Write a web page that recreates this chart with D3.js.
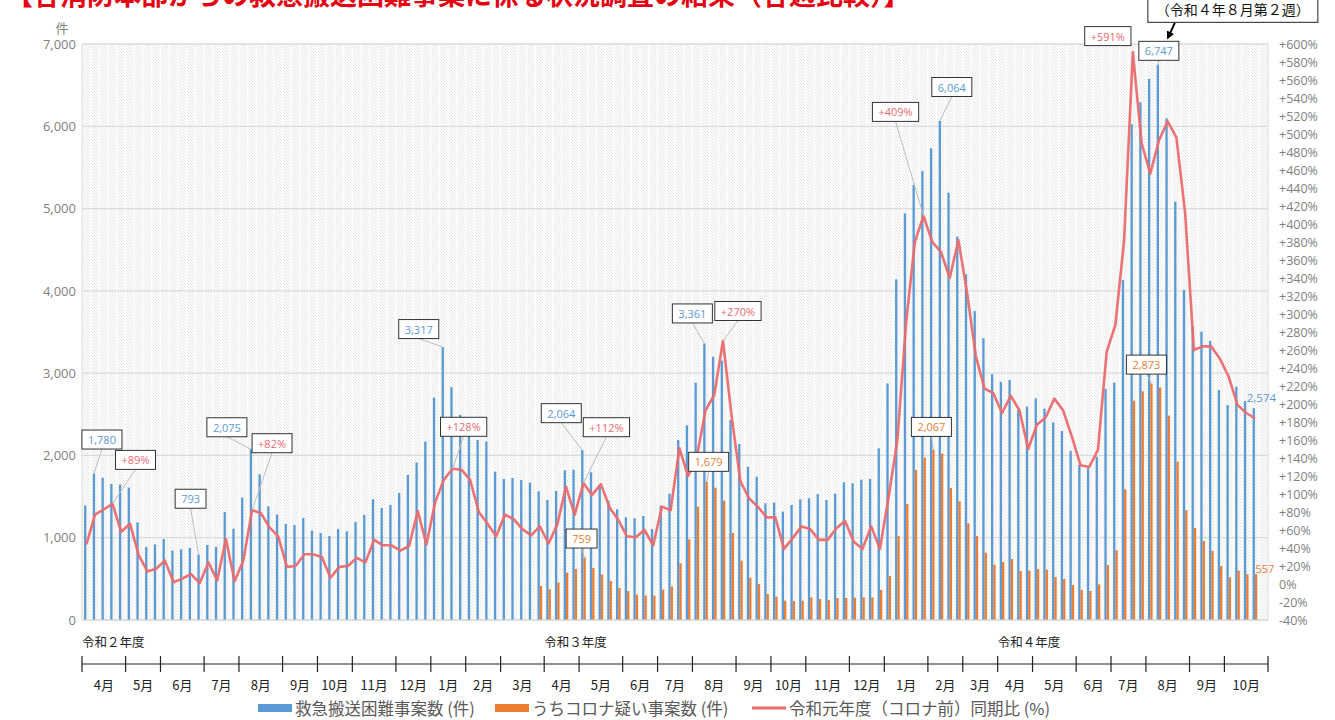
<!DOCTYPE html>
<html><head><meta charset="utf-8">
<script src="https://cdn.jsdelivr.net/npm/d3@7"></script>
<style>
body{margin:0;background:#fff;}
svg{display:block;font-family:"Noto Sans CJK JP","Noto Sans",sans-serif;}
.num{font-family:"Open Sans","Noto Sans CJK JP",sans-serif;}
</style></head><body>
<svg id="chart" width="1335" height="720"></svg>
<script>
// ---------------- DATA ----------------
const titleText = "【各消防本部からの救急搬送困難事案に係る状況調査の結果（各週比較）】";
const seriesNames = ["救急搬送困難事案数 (件)", "うちコロナ疑い事案数 (件)", "令和元年度（コロナ前）同期比 (%)"];

// weekly counts, week 1 = first week of 令和2年度
const blueValues = [1390,1780,1730,1654,1645,1609,1187,888,920,985,
843,859,875,793,912,888,1313,1110,1487,2075,
1771,1382,1281,1167,1155,1240,1086,1058,1021,1106,
1078,1192,1277,1467,1362,1398,1544,1763,1913,2168,
2703,3317,2829,2493,2270,2188,2168,1803,1714,1726,
1701,1669,1564,1458,1568,1819,1827,2064,1795,1620,
1450,1345,1248,1236,1264,1106,1389,1535,2188,2366,
2884,3361,3200,3152,2431,2139,1863,1742,1418,1426,
1317,1398,1466,1479,1531,1458,1535,1673,1661,1705,
1714,2086,2876,4140,4942,5287,5457,5732,6064,5193,
4659,4201,3755,3423,2986,2896,2917,2552,2593,2694,
2568,2402,2297,2054,1884,1843,1985,2807,2884,4132,
6024,6291,6575,6747,6097,5084,4011,3565,3504,3391,
2795,2613,2836,2662,2574];

const orangeValues = [
null,null,null,null,null,null,null,null,null,null,
null,null,null,null,null,null,null,null,null,null,
null,null,null,null,null,null,null,null,null,null,
null,null,null,null,null,null,null,null,null,null,
null,null,null,null,null,null,null,null,null,null,
null,null,
413,373,454,575,620,759,632,551,474,389,
352,308,296,296,369,409,689,980,1377,1679,
1608,1450,1057,721,514,437,316,284,235,231,
235,275,255,243,267,267,271,275,275,365,
535,1021,1410,1823,1973,2067,2021,1604,1442,1175,
1021,818,672,705,741,595,600,620,612,523,
498,425,365,352,433,668,847,1588,2666,2779,
2873,2824,2483,1924,1333,1118,960,839,656,518,
600,555,557];

const ratioValues = [44,77,83,89,58,67,32,14,17,26,
2,6,11,1,24,4,50,3,26,82,
79,63,53,19,20,33,33,30,7,19,
20,29,24,49,43,43,37,42,81,44,
91,116,128,127,116,80,67,53,77,72,
61,54,64,45,66,108,77,112,99,111,
85,71,53,52,60,43,86,82,151,120,
141,193,210,270,186,114,95,86,74,74,
39,51,64,61,49,49,62,70,47,39,
64,39,97,160,290,380,409,380,369,340,
382,323,253,217,212,190,209,193,150,177,
185,206,193,164,132,130,149,258,288,382,
591,490,456,493,514,496,412,260,264,264,
250,230,199,190,184];

const monthLabels = ["4月","5月","6月","7月","8月","9月","10月","11月","12月","1月","2月","3月",
                     "4月","5月","6月","7月","8月","9月","10月","11月","12月","1月","2月","3月",
                     "4月","5月","6月","7月","8月","9月","10月"];
const monthWeeks  = [5,4,5,4,5,4,4,5,4,4,4,5,
                     4,5,4,4,5,4,4,5,4,5,4,4,
                     4,5,4,4,5,4,5];
const fiscalYearLabels = ["令和２年度","令和３年度","令和４年度"];
const fiscalYearStartMonth = [0,12,24];

const leftTickValues = [0,1000,2000,3000,4000,5000,6000,7000];
const rightTickValues = d3.range(-40, 601, 20);

// labelled points (week index)
const blueLabelIdx = [1,13,19,41,57,71,98,123];
const orangeLabelIdx = [57,71,97,122];
const ratioLabelIdx = [3,19,42,57,73,96,120];
const peakNote = "（令和４年８月第２週）";

// ---------------- LAYOUT ----------------
const svg = d3.select("#chart");
const plot = {left:82, right:1268, top:44, bottom:620};
const nSlots = d3.sum(monthWeeks);
const x = d3.scaleBand().domain(d3.range(nSlots)).range([plot.left, plot.right]);
const bw = x.bandwidth();
const cx = i => x(i) + bw/2;
const y = d3.scaleLinear().domain([0,7000]).range([plot.bottom, plot.top]);
const y2 = d3.scaleLinear().domain([-40,600]).range([plot.bottom, plot.top]);
const barW = 2.3;
const BLUE="#5B9BD5", ORANGE="#ED7D31", RED="#EC6A6C", GRAY="#7f7f7f";

const defs = svg.append("defs");
const pat = defs.append("pattern").attr("id","hatch").attr("patternUnits","userSpaceOnUse")
  .attr("width",3).attr("height",3);
pat.append("rect").attr("width",3).attr("height",3).attr("fill","#fcfcfc");
pat.append("path").attr("d","M0,0L3,3M-1,2L1,4M2,-1L4,1").attr("stroke","#dedede").attr("stroke-width",0.7);
const mk = defs.append("marker").attr("id","arrow").attr("viewBox","0 0 10 10").attr("refX",5).attr("refY",5)
  .attr("markerWidth",4).attr("markerHeight",4).attr("orient","auto-start-reverse");
mk.append("path").attr("d","M0,0L10,5L0,10z").attr("fill","#000");

// title (partially cut at top, as in the source image)
svg.append("text").attr("x",6).attr("y",5).attr("fill","#E60012")
  .style("font-size","27px").style("font-weight","bold").text(titleText);

// background columns
svg.append("g").selectAll("rect").data(d3.range(nSlots)).join("rect")
  .attr("x", i => x(i)+0.5).attr("width", bw-1.3)
  .attr("y", y(7000)).attr("height", y(0)-y(7000)).attr("fill","url(#hatch)");

// gridlines
svg.append("g").selectAll("line").data(leftTickValues).join("line")
  .attr("x1",plot.left).attr("x2",plot.right).attr("y1",d=>y(d)).attr("y2",d=>y(d))
  .attr("stroke","#dcdcdc").attr("stroke-width",1.2);
svg.append("rect").attr("x",plot.left).attr("y",plot.top).attr("width",plot.right-plot.left)
  .attr("height",plot.bottom-plot.top).attr("fill","none").attr("stroke","#dcdcdc");

// axes
const axL = svg.append("g").attr("transform",`translate(${plot.left},0)`)
  .call(d3.axisLeft(y).tickValues(leftTickValues).tickFormat(d3.format(",")).tickSize(0).tickPadding(6));
const axR = svg.append("g").attr("transform",`translate(${plot.right},0)`)
  .call(d3.axisRight(y2).tickValues(rightTickValues).tickFormat(d => (d>0?"+":"")+d+"%").tickSize(0).tickPadding(11));
[axL,axR].forEach(a=>{a.select(".domain").remove(); a.selectAll("text").attr("fill",GRAY).attr("class","num");});
axL.selectAll("text").style("font-size","13px");
axR.selectAll("text").style("font-size","12.5px");
svg.append("text").attr("x",62).attr("y",27).attr("text-anchor","middle").attr("dominant-baseline","central")
  .attr("fill",GRAY).style("font-size","13px").text("件");

// bars
svg.append("g").selectAll("rect").data(blueValues).join("rect")
  .attr("x",(d,i)=>cx(i)-barW).attr("width",barW).attr("y",d=>y(d)).attr("height",d=>y(0)-y(d)).attr("fill",BLUE);
svg.append("g").selectAll("rect").data(orangeValues.map((v,i)=>({v,i})).filter(d=>d.v!=null)).join("rect")
  .attr("x",d=>cx(d.i)).attr("width",barW).attr("y",d=>y(d.v)).attr("height",d=>y(0)-y(d.v)).attr("fill",ORANGE);
svg.append("line").attr("x1",plot.left).attr("x2",plot.right).attr("y1",y(0)).attr("y2",y(0)).attr("stroke","#d9d9d9");

// line
svg.append("path").datum(ratioValues).attr("fill","none").attr("stroke",RED).attr("stroke-width",2.6)
  .attr("stroke-linejoin","round").attr("opacity",0.95)
  .attr("d", d3.line().x((d,i)=>cx(i)).y(d=>y2(d)));

// ---------------- DATA LABELS ----------------
const fmt = d3.format(",");
const pct = d => (d>0?"+":"")+d+"%";
const blueOff = {1:[8,-34],13:[-8,-56],19:[-24,-22],41:[-24,-18],57:[-21,-37],71:[-12,-30],98:[12,-34],123:[1,-14]};
const orangeOff = {57:[-3,-19],71:[2,-20],97:[-2,-23],122:[-5,-19]};
const ratioOff = {3:[23,-44],19:[20,-67],42:[11,-42],57:[23,-56],73:[15,-30],96:[-28,-104],120:[-25,-16]};
const labels = [];
blueLabelIdx.forEach(i=>labels.push({ax:cx(i)-barW/2, ay:y(blueValues[i]), off:blueOff[i], text:fmt(blueValues[i]), color:BLUE}));
orangeLabelIdx.forEach(i=>labels.push({ax:cx(i)+barW/2, ay:y(orangeValues[i]), off:orangeOff[i], text:fmt(orangeValues[i]), color:ORANGE}));
ratioLabelIdx.forEach(i=>labels.push({ax:cx(i), ay:y2(ratioValues[i]), off:ratioOff[i], text:pct(ratioValues[i]), color:RED, noLeader:i===120}));

const gLead = svg.append("g"), gBox = svg.append("g");
labels.forEach(l=>{
  const bx = l.ax + l.off[0], by = l.ay + l.off[1], h = 19;
  if(!l.noLeader) gLead.append("line").attr("x1",bx).attr("y1",by+h/2).attr("x2",l.ax).attr("y2",l.ay)
    .attr("stroke","#bdbdbd").attr("stroke-width",1);
  const r = gBox.append("rect");
  const t = gBox.append("text").attr("class","num").attr("x",bx).attr("y",by).attr("text-anchor","middle")
    .attr("dominant-baseline","central").attr("fill",l.color).style("font-size","11px").text(l.text);
  const w = t.node().getComputedTextLength()+12;
  r.attr("x",bx-w/2).attr("y",by-h/2).attr("width",w).attr("height",h).attr("fill","#fff")
    .attr("stroke","#333").attr("stroke-width",1);
});
const last = blueValues.length-1;
svg.append("text").attr("class","num").attr("x",cx(last)-barW/2-7).attr("y",y(blueValues[last])-11)
  .attr("dominant-baseline","central").attr("fill",BLUE).style("font-size","11.5px").text(fmt(blueValues[last]));
svg.append("text").attr("class","num").attr("x",cx(last)+0.5).attr("y",y(orangeValues[last])-6)
  .attr("dominant-baseline","central").attr("fill",ORANGE).style("font-size","11px").text(fmt(orangeValues[last]));

// peak note callout
const pk = 123, pax = cx(pk)-barW/2, pay = y(blueValues[pk]);
const gNote = svg.append("g");
const nRect = gNote.append("rect");
const nt = gNote.append("text").attr("x",pax+75).attr("y",pay-55.5).attr("text-anchor","middle")
  .attr("dominant-baseline","central").attr("fill","#111").style("font-size","14px").text(peakNote);
const nw = nt.node().getComputedTextLength()+16;
nRect.attr("x",pax+75-nw/2).attr("y",pay-56.5-14).attr("width",nw).attr("height",28)
  .attr("fill","#fff").attr("stroke","#222").attr("stroke-width",1);
gNote.append("line").attr("x1",pax+17).attr("y1",pay-42).attr("x2",pax+11).attr("y2",pay-29)
  .attr("stroke","#000").attr("stroke-width",2).attr("marker-end","url(#arrow)");

// ---------------- MONTH AXIS ----------------
const cum = [0]; monthWeeks.forEach(w=>cum.push(cum[cum.length-1]+w));
const bx0 = k => plot.left + k*x.step();
const gm = svg.append("g");
gm.append("line").attr("x1",bx0(0)).attr("x2",bx0(nSlots)).attr("y1",664).attr("y2",664).attr("stroke","#222").attr("stroke-width",1.2);
gm.selectAll("line.t").data(cum).join("line").attr("class","t")
  .attr("x1",d=>bx0(d)).attr("x2",d=>bx0(d)).attr("y1",656).attr("y2",672).attr("stroke","#222").attr("stroke-width",1.2);
gm.selectAll("text.m").data(monthLabels).join("text").attr("class","m")
  .attr("x",(d,k)=>(bx0(cum[k])+bx0(cum[k+1]))/2).attr("y",684).attr("text-anchor","middle")
  .attr("dominant-baseline","central").attr("fill","#222").style("font-size","13px").text(d=>d);
gm.selectAll("text.fy").data(fiscalYearLabels).join("text").attr("class","fy")
  .attr("x",(d,k)=>bx0(cum[fiscalYearStartMonth[k]])).attr("y",641)
  .attr("dominant-baseline","central").attr("fill","#222").style("font-size","12.5px").text(d=>d);

// ---------------- LEGEND ----------------
const lg = svg.append("g");
const legendX = [258, 495, 752];
const legendColors = [BLUE, ORANGE, RED];
seriesNames.forEach((name,k)=>{
  if(k<2) lg.append("rect").attr("x",legendX[k]).attr("y",704).attr("width",34).attr("height",8).attr("fill",legendColors[k]);
  else lg.append("line").attr("x1",legendX[k]).attr("x2",legendX[k]+34).attr("y1",708).attr("y2",708).attr("stroke",RED).attr("stroke-width",3);
  lg.append("text").attr("x",legendX[k]+37).attr("y",708).attr("dominant-baseline","central")
    .attr("fill","#595959").style("font-size","16.5px").text(name);
});
</script></body></html>
